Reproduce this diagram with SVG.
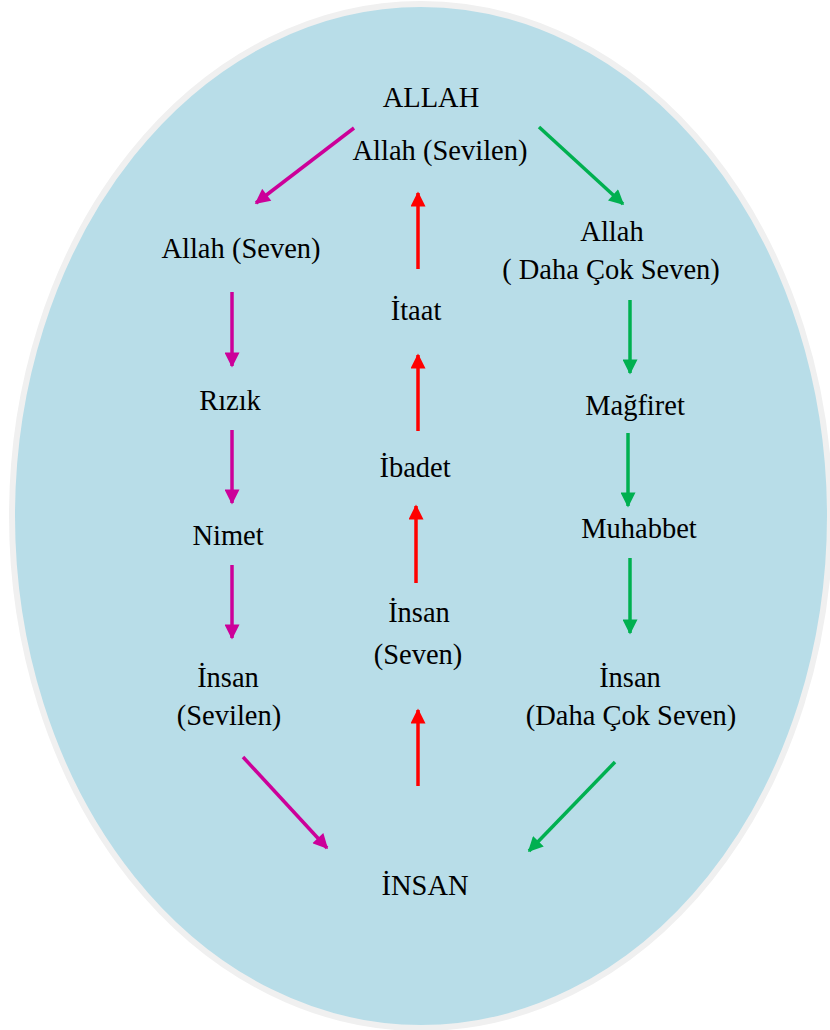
<svg xmlns="http://www.w3.org/2000/svg" width="830" height="1030" viewBox="0 0 830 1030">
<defs>
<style>
text{font-family:"Liberation Serif","Times New Roman","DejaVu Serif",serif;font-size:28.5px;fill:#000;text-anchor:middle}
.m{stroke:#cc0099;stroke-width:3.5;fill:none}
.g{stroke:#00b050;stroke-width:3.5;fill:none}
.r{stroke:#ff0000;stroke-width:3.5;fill:none}
</style>
<marker id="am" viewBox="0 0 10 10" refX="9" refY="5" markerWidth="16" markerHeight="15" markerUnits="userSpaceOnUse" orient="auto"><path d="M0,0 L10,5 L0,10 z" fill="#cc0099"/></marker>
<marker id="ag" viewBox="0 0 10 10" refX="9" refY="5" markerWidth="16" markerHeight="15" markerUnits="userSpaceOnUse" orient="auto"><path d="M0,0 L10,5 L0,10 z" fill="#00b050"/></marker>
<marker id="ar" viewBox="0 0 10 10" refX="9" refY="5" markerWidth="16" markerHeight="15" markerUnits="userSpaceOnUse" orient="auto"><path d="M0,0 L10,5 L0,10 z" fill="#ff0000"/></marker>
</defs>
<rect width="830" height="1030" fill="#ffffff"/>
<ellipse id="bg" cx="421" cy="516" rx="409" ry="512" fill="#b8dde8" stroke="#f0f0f0" stroke-width="6"/>
<g id="connectors">
<line class="m" x1="354" y1="128" x2="256" y2="203" marker-end="url(#am)"/>
<line class="g" x1="539" y1="127" x2="623" y2="204" marker-end="url(#ag)"/>
<line class="r" x1="418" y1="269" x2="418" y2="193" marker-end="url(#ar)"/>
<line class="r" x1="418" y1="431" x2="418" y2="355" marker-end="url(#ar)"/>
<line class="r" x1="416" y1="583" x2="416" y2="506" marker-end="url(#ar)"/>
<line class="r" x1="418" y1="786" x2="418" y2="710" marker-end="url(#ar)"/>
<line class="m" x1="232" y1="292" x2="232" y2="366" marker-end="url(#am)"/>
<line class="m" x1="232" y1="430" x2="232" y2="503" marker-end="url(#am)"/>
<line class="m" x1="232" y1="565" x2="232" y2="638" marker-end="url(#am)"/>
<line class="m" x1="243" y1="757" x2="327" y2="848" marker-end="url(#am)"/>
<line class="g" x1="630" y1="300" x2="630" y2="373" marker-end="url(#ag)"/>
<line class="g" x1="628" y1="433" x2="628" y2="506" marker-end="url(#ag)"/>
<line class="g" x1="630" y1="558" x2="630" y2="633" marker-end="url(#ag)"/>
<line class="g" x1="615" y1="762" x2="529" y2="851" marker-end="url(#ag)"/>
</g>
<g id="n-allah-top"><text x="431" y="107">ALLAH</text></g>
<g id="n-allah-sevilen"><text x="440" y="160">Allah (Sevilen)</text></g>
<g id="n-allah-seven"><text x="241" y="258">Allah (Seven)</text></g>
<g id="n-allah-daha"><text x="612" y="241">Allah</text><text x="611" y="279">( Daha Çok Seven)</text></g>
<g id="n-itaat"><text x="416" y="320">İtaat</text></g>
<g id="n-rizik"><text x="230" y="410">Rızık</text></g>
<g id="n-magfiret"><text x="635" y="415">Mağfiret</text></g>
<g id="n-ibadet"><text x="415" y="477">İbadet</text></g>
<g id="n-nimet"><text x="228" y="545">Nimet</text></g>
<g id="n-muhabbet"><text x="639" y="538">Muhabbet</text></g>
<g id="n-insan-seven"><text x="419" y="622">İnsan</text><text x="418" y="664">(Seven)</text></g>
<g id="n-insan-sevilen"><text x="228" y="687">İnsan</text><text x="229" y="725">(Sevilen)</text></g>
<g id="n-insan-daha"><text x="630" y="687">İnsan</text><text x="631" y="725">(Daha Çok Seven)</text></g>
<g id="n-insan-bottom"><text x="425" y="895">İNSAN</text></g>
</svg>
